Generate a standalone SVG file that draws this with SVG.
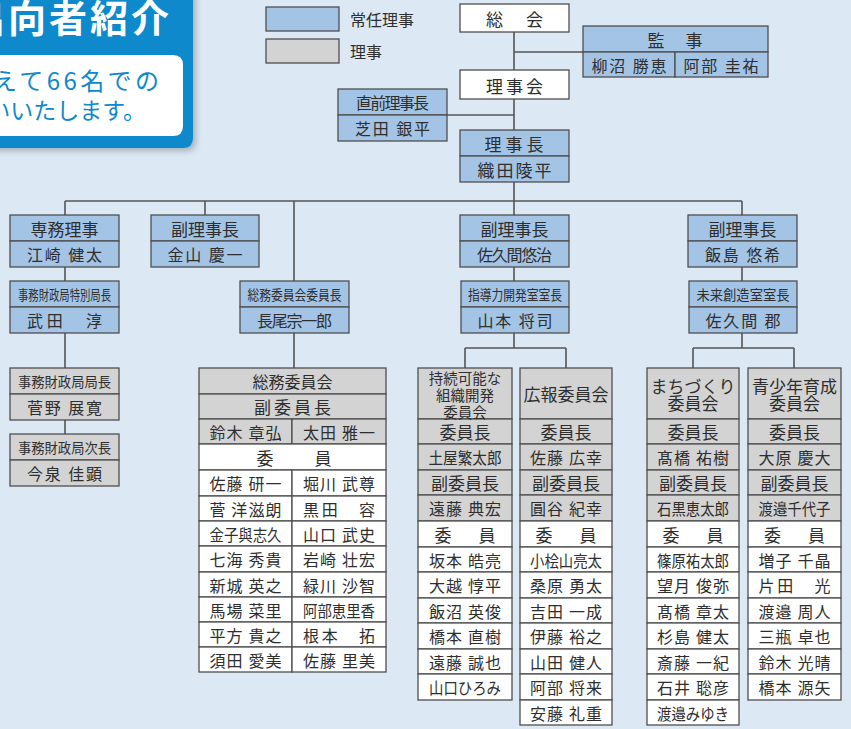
<svg xmlns="http://www.w3.org/2000/svg" width="851" height="729" viewBox="0 0 851 729">
<defs>
<style>
text{font-family:"Noto Sans CJK JP","Noto Sans CJK SC",sans-serif;fill:#2e2e2e}
.c{text-anchor:middle;dominant-baseline:central}
.h{font-size:17px}
.n{font-size:16px}
.s{font-size:14px}
.bl{fill:#a4c4e6;stroke:#4f4f4f;stroke-width:1.3}
.gr{fill:#d3d3d3;stroke:#4f4f4f;stroke-width:1.3}
.wh{fill:#fff;stroke:#4f4f4f;stroke-width:1.3}
.ln{fill:none;stroke:#555;stroke-width:1.6}
</style>
<filter id="sh" x="-10%" y="-10%" width="130%" height="130%"><feDropShadow dx="3" dy="3" stdDeviation="3" flood-color="#000" flood-opacity="0.25"/></filter>
</defs>
<rect width="851" height="729" fill="#dce9f5"/>

<g id="title">
<path d="M-10,-10 H193 V138 Q193,148 183,148 H-10 Z" fill="#0e89cc" filter="url(#sh)"/>
<text x="-33" y="32" font-size="38" font-weight="700" letter-spacing="3" style="fill:#fff">出向者紹介</text>
<path d="M-10,55 H173 Q183,55 183,65 V126 Q183,136 173,136 H-10 Z" fill="#fff"/>
<text x="-7" y="90" font-size="24" textLength="166" style="fill:#0e89cc">えて66名での</text>
<text x="146" y="119" font-size="23" text-anchor="end" style="fill:#0e89cc">いいたします。</text>
</g>

<g id="legend">
<rect class="bl" x="266" y="7" width="73" height="24"/>
<rect class="gr" x="266" y="39" width="73" height="24"/>
<text x="350" y="19" class="n" dominant-baseline="central">常任理事</text>
<text x="350" y="51" class="n" dominant-baseline="central">理事</text>
</g>

<g id="connectors" class="ln">
<path d="M514,32 V70 M514,52 H583 M514,99 V130 M447,115 H514 M514,182 V201"/>
<path d="M65,201 H742 M65,201 V215 M205,201 V215 M294,201 V281 M514,201 V215 M742,201 V215"/>
<path d="M65,267 V281 M65,333 V368 M65,420 V434 M294,333 V368"/>
<path d="M514,267 V281 M514,333 V348 M465,348 H566 M465,348 V368 M566,348 V368"/>
<path d="M742,267 V281 M742,333 V348 M693,348 H794 M693,348 V368 M794,348 V368"/>
</g>

<g id="soukai">
<rect class="wh" x="460" y="4" width="109" height="28"/>
<text class="c h" x="516" y="18" letter-spacing="3">総　会</text>
</g>
<g id="kanji">
<rect class="bl" x="583" y="26" width="185" height="26"/>
<rect class="bl" x="583" y="52" width="92" height="25"/>
<rect class="bl" x="675" y="52" width="93" height="25"/>
<text class="c h" x="676" y="39" letter-spacing="2">監　事</text>
<text class="c n" x="629" y="65" textLength="75">柳沼 勝恵</text>
<text class="c n" x="721" y="65" textLength="75">阿部 圭祐</text>
</g>
<g id="rijikai">
<rect class="wh" x="460" y="70" width="109" height="29"/>
<text class="c h" x="516" y="85" letter-spacing="3">理事会</text>
</g>
<g id="zenninrijichou">
<rect class="bl" x="338" y="89" width="109" height="26"/>
<rect class="bl" x="338" y="115" width="109" height="26"/>
<text class="c n" x="392.5" y="102" textLength="73">直前理事長</text>
<text class="c n" x="392.5" y="128" textLength="75">芝田 銀平</text>
</g>
<g id="rijichou">
<rect class="bl" x="460" y="130" width="109" height="26"/>
<rect class="bl" x="460" y="156" width="109" height="26"/>
<text class="c h" x="516" y="143" letter-spacing="4">理事長</text>
<text class="c h" x="515.5" y="169" letter-spacing="2">織田陵平</text>
</g>

<g id="senmu">
<rect class="bl" x="10" y="215" width="109" height="26"/>
<rect class="bl" x="10" y="241" width="109" height="26"/>
<text class="c h" x="64.5" y="228">専務理事</text>
<text class="c n" x="64.5" y="254" textLength="75">江崎 健太</text>
</g>
<g id="fuku1">
<rect class="bl" x="151" y="215" width="108" height="26"/>
<rect class="bl" x="151" y="241" width="108" height="26"/>
<text class="c h" x="205" y="228">副理事長</text>
<text class="c n" x="205" y="254" textLength="75">金山 慶一</text>
</g>
<g id="fuku2">
<rect class="bl" x="460" y="215" width="109" height="26"/>
<rect class="bl" x="460" y="241" width="109" height="26"/>
<text class="c h" x="514.5" y="228">副理事長</text>
<text class="c n" x="514.5" y="254" textLength="75">佐久間悠治</text>
</g>
<g id="fuku3">
<rect class="bl" x="688" y="215" width="109" height="26"/>
<rect class="bl" x="688" y="241" width="109" height="26"/>
<text class="c h" x="742.5" y="228">副理事長</text>
<text class="c n" x="742.5" y="254" textLength="75">飯島 悠希</text>
</g>

<g id="tokubetsu">
<rect class="bl" x="10" y="281" width="109" height="26"/>
<rect class="bl" x="10" y="307" width="109" height="26"/>
<text class="c s" x="64.5" y="294" textLength="93" lengthAdjust="spacingAndGlyphs">事務財政局特別局長</text>
<text class="c n" x="64.5" y="320" textLength="75">武田　淳</text>
</g>
<g id="soumuchou">
<rect class="bl" x="240" y="281" width="109" height="26"/>
<rect class="bl" x="240" y="307" width="109" height="26"/>
<text class="c s" x="294.5" y="294" textLength="94" lengthAdjust="spacingAndGlyphs">総務委員会委員長</text>
<text class="c n" x="294.5" y="320" textLength="75">長尾宗一郎</text>
</g>
<g id="shidou">
<rect class="bl" x="461" y="281" width="108" height="26"/>
<rect class="bl" x="461" y="307" width="108" height="26"/>
<text class="c s" x="515" y="294" textLength="94" lengthAdjust="spacingAndGlyphs">指導力開発室室長</text>
<text class="c n" x="515" y="320" textLength="75">山本 将司</text>
</g>
<g id="mirai">
<rect class="bl" x="689" y="281" width="108" height="26"/>
<rect class="bl" x="689" y="307" width="108" height="26"/>
<text class="c s" x="743" y="294" textLength="93" lengthAdjust="spacingAndGlyphs">未来創造室室長</text>
<text class="c n" x="743" y="320" textLength="75">佐久間 郡</text>
</g>

<g id="kyokuchou">
<rect class="gr" x="10" y="368" width="109" height="26"/>
<rect class="gr" x="10" y="394" width="109" height="26"/>
<text class="c s" x="64.5" y="381" textLength="93" lengthAdjust="spacingAndGlyphs">事務財政局局長</text>
<text class="c n" x="64.5" y="407" textLength="75">菅野 展寛</text>
</g>
<g id="jichou">
<rect class="gr" x="10" y="434" width="109" height="26"/>
<rect class="gr" x="10" y="460" width="109" height="26"/>
<text class="c s" x="64.5" y="447" textLength="93" lengthAdjust="spacingAndGlyphs">事務財政局次長</text>
<text class="c n" x="64.5" y="473" textLength="75">今泉 佳顕</text>
</g>

<g id="soumu">
<rect class="gr" x="199" y="368" width="187" height="26"/>
<rect class="gr" x="199" y="394" width="187" height="25"/>
<rect class="gr" x="199" y="419" width="93" height="25"/>
<rect class="gr" x="292" y="419" width="94" height="25"/>
<rect class="wh" x="199" y="444" width="187" height="26"/>
<rect class="wh" x="199" y="470" width="93" height="26"/><rect class="wh" x="292" y="470" width="94" height="26"/>
<rect class="wh" x="199" y="496" width="93" height="25"/><rect class="wh" x="292" y="496" width="94" height="25"/>
<rect class="wh" x="199" y="521" width="93" height="25"/><rect class="wh" x="292" y="521" width="94" height="25"/>
<rect class="wh" x="199" y="546" width="93" height="26"/><rect class="wh" x="292" y="546" width="94" height="26"/>
<rect class="wh" x="199" y="572" width="93" height="25"/><rect class="wh" x="292" y="572" width="94" height="25"/>
<rect class="wh" x="199" y="597" width="93" height="25"/><rect class="wh" x="292" y="597" width="94" height="25"/>
<rect class="wh" x="199" y="622" width="93" height="25"/><rect class="wh" x="292" y="622" width="94" height="25"/>
<rect class="wh" x="199" y="647" width="93" height="25"/><rect class="wh" x="292" y="647" width="94" height="25"/>
<text class="c n" x="292.5" y="381">総務委員会</text>
<text class="c h" x="294" y="406.5" letter-spacing="3">副委員長</text>
<text class="c n" x="245.5" y="431.5" textLength="72">鈴木 章弘</text>
<text class="c n" x="339" y="431.5" textLength="72">太田 雅一</text>
<text class="c h" x="265" y="457">委</text>
<text class="c h" x="323" y="457">員</text>
<text class="c n" x="245.5" y="483" textLength="72">佐藤 研一</text>
<text class="c n" x="339" y="483" textLength="72">堀川 武尊</text>
<text class="c n" x="245.5" y="508.5" textLength="72">菅 洋滋朗</text>
<text class="c n" x="339" y="508.5" textLength="72">黒田　容</text>
<text class="c n" x="245.5" y="533.5" textLength="72" lengthAdjust="spacingAndGlyphs">金子與志久</text>
<text class="c n" x="339" y="533.5" textLength="72">山口 武史</text>
<text class="c n" x="245.5" y="559" textLength="72">七海 秀貴</text>
<text class="c n" x="339" y="559" textLength="72">岩崎 壮宏</text>
<text class="c n" x="245.5" y="584.5" textLength="72">新城 英之</text>
<text class="c n" x="339" y="584.5" textLength="72">緑川 沙智</text>
<text class="c n" x="245.5" y="609.5" textLength="72">馬場 菜里</text>
<text class="c n" x="339" y="609.5" textLength="72" lengthAdjust="spacingAndGlyphs">阿部恵里香</text>
<text class="c n" x="245.5" y="634.5" textLength="72">平方 貴之</text>
<text class="c n" x="339" y="634.5" textLength="72">根本　拓</text>
<text class="c n" x="245.5" y="659.5" textLength="72">須田 愛美</text>
<text class="c n" x="339" y="659.5" textLength="72">佐藤 里美</text>
</g>

<g id="jizoku">
<rect class="gr" x="418" y="368" width="94" height="51"/>
<rect class="gr" x="418" y="419" width="94" height="25"/>
<rect class="gr" x="418" y="444" width="94" height="26"/>
<rect class="gr" x="418" y="470" width="94" height="25"/>
<rect class="gr" x="418" y="495" width="94" height="26"/>
<rect class="wh" x="418" y="521" width="94" height="26"/>
<rect class="wh" x="418" y="547" width="94" height="25"/>
<rect class="wh" x="418" y="572" width="94" height="26"/>
<rect class="wh" x="418" y="598" width="94" height="25"/>
<rect class="wh" x="418" y="623" width="94" height="26"/>
<rect class="wh" x="418" y="649" width="94" height="25"/>
<rect class="wh" x="418" y="674" width="94" height="26"/>
<text class="c" font-size="14.5"><tspan x="465" y="377">持続可能な</tspan><tspan x="465" y="394">組織開発</tspan><tspan x="465" y="411">委員会</tspan></text>
<text class="c h" x="465" y="431.5">委員長</text>
<text class="c n" x="465" y="457" textLength="73" lengthAdjust="spacingAndGlyphs">土屋繁太郎</text>
<text class="c h" x="465" y="482.5">副委員長</text>
<text class="c n" x="465" y="508" textLength="72">遠藤 典宏</text>
<text class="c h" x="443" y="534">委</text>
<text class="c h" x="487" y="534">員</text>
<text class="c n" x="465" y="559.5" textLength="72">坂本 皓亮</text>
<text class="c n" x="465" y="585" textLength="72">大越 惇平</text>
<text class="c n" x="465" y="610.5" textLength="72">飯沼 英俊</text>
<text class="c n" x="465" y="636" textLength="72">橋本 直樹</text>
<text class="c n" x="465" y="661.5" textLength="72">遠藤 誠也</text>
<text class="c n" x="465" y="687" textLength="72" lengthAdjust="spacingAndGlyphs">山口ひろみ</text>
</g>

<g id="kouhou">
<rect class="gr" x="520" y="368" width="92" height="51"/>
<rect class="gr" x="520" y="419" width="92" height="25"/>
<rect class="gr" x="520" y="444" width="92" height="26"/>
<rect class="gr" x="520" y="470" width="92" height="25"/>
<rect class="gr" x="520" y="495" width="92" height="26"/>
<rect class="wh" x="520" y="521" width="92" height="26"/>
<rect class="wh" x="520" y="547" width="92" height="25"/>
<rect class="wh" x="520" y="572" width="92" height="26"/>
<rect class="wh" x="520" y="598" width="92" height="25"/>
<rect class="wh" x="520" y="623" width="92" height="26"/>
<rect class="wh" x="520" y="649" width="92" height="25"/>
<rect class="wh" x="520" y="674" width="92" height="26"/>
<rect class="wh" x="520" y="700" width="92" height="25"/>
<text class="c h" x="566" y="393">広報委員会</text>
<text class="c h" x="566" y="431.5">委員長</text>
<text class="c n" x="566" y="457" textLength="72">佐藤 広幸</text>
<text class="c h" x="566" y="482.5">副委員長</text>
<text class="c n" x="566" y="508" textLength="72">圓谷 紀幸</text>
<text class="c h" x="544" y="534">委</text>
<text class="c h" x="588" y="534">員</text>
<text class="c n" x="566" y="559.5" textLength="72" lengthAdjust="spacingAndGlyphs">小桧山亮太</text>
<text class="c n" x="566" y="585" textLength="72">桑原 勇太</text>
<text class="c n" x="566" y="610.5" textLength="72">吉田 一成</text>
<text class="c n" x="566" y="636" textLength="72">伊藤 裕之</text>
<text class="c n" x="566" y="661.5" textLength="72">山田 健人</text>
<text class="c n" x="566" y="687" textLength="72">阿部 将来</text>
<text class="c n" x="566" y="712.5" textLength="72">安藤 礼重</text>
</g>

<g id="machizukuri">
<rect class="gr" x="647" y="368" width="92" height="51"/>
<rect class="gr" x="647" y="419" width="92" height="25"/>
<rect class="gr" x="647" y="444" width="92" height="26"/>
<rect class="gr" x="647" y="470" width="92" height="25"/>
<rect class="gr" x="647" y="495" width="92" height="26"/>
<rect class="wh" x="647" y="521" width="92" height="26"/>
<rect class="wh" x="647" y="547" width="92" height="25"/>
<rect class="wh" x="647" y="572" width="92" height="26"/>
<rect class="wh" x="647" y="598" width="92" height="25"/>
<rect class="wh" x="647" y="623" width="92" height="26"/>
<rect class="wh" x="647" y="649" width="92" height="25"/>
<rect class="wh" x="647" y="674" width="92" height="26"/>
<rect class="wh" x="647" y="700" width="92" height="25"/>
<text class="c h"><tspan x="693" y="385">まちづくり</tspan><tspan x="693" y="402">委員会</tspan></text>
<text class="c h" x="693" y="431.5">委員長</text>
<text class="c n" x="693" y="457" textLength="72">髙橋 祐樹</text>
<text class="c h" x="693" y="482.5">副委員長</text>
<text class="c n" x="693" y="508" textLength="72" lengthAdjust="spacingAndGlyphs">石黒恵太郎</text>
<text class="c h" x="671" y="534">委</text>
<text class="c h" x="715" y="534">員</text>
<text class="c n" x="693" y="559.5" textLength="72" lengthAdjust="spacingAndGlyphs">篠原祐太郎</text>
<text class="c n" x="693" y="585" textLength="72">望月 俊弥</text>
<text class="c n" x="693" y="610.5" textLength="72">髙橋 章太</text>
<text class="c n" x="693" y="636" textLength="72">杉島 健太</text>
<text class="c n" x="693" y="661.5" textLength="72">斎藤 一紀</text>
<text class="c n" x="693" y="687" textLength="72">石井 聡彦</text>
<text class="c n" x="693" y="712.5" textLength="72" lengthAdjust="spacingAndGlyphs">渡邉みゆき</text>
</g>

<g id="seishounen">
<rect class="gr" x="748" y="368" width="93" height="51"/>
<rect class="gr" x="748" y="419" width="93" height="25"/>
<rect class="gr" x="748" y="444" width="93" height="26"/>
<rect class="gr" x="748" y="470" width="93" height="25"/>
<rect class="gr" x="748" y="495" width="93" height="26"/>
<rect class="wh" x="748" y="521" width="93" height="26"/>
<rect class="wh" x="748" y="547" width="93" height="25"/>
<rect class="wh" x="748" y="572" width="93" height="26"/>
<rect class="wh" x="748" y="598" width="93" height="25"/>
<rect class="wh" x="748" y="623" width="93" height="26"/>
<rect class="wh" x="748" y="649" width="93" height="25"/>
<rect class="wh" x="748" y="674" width="93" height="26"/>
<text class="c h"><tspan x="794.5" y="385">青少年育成</tspan><tspan x="794.5" y="402">委員会</tspan></text>
<text class="c h" x="794.5" y="431.5">委員長</text>
<text class="c n" x="794.5" y="457" textLength="72">大原 慶大</text>
<text class="c h" x="794.5" y="482.5">副委員長</text>
<text class="c n" x="794.5" y="508" textLength="72" lengthAdjust="spacingAndGlyphs">渡邉千代子</text>
<text class="c h" x="772.5" y="534">委</text>
<text class="c h" x="816.5" y="534">員</text>
<text class="c n" x="794.5" y="559.5" textLength="72">増子 千晶</text>
<text class="c n" x="794.5" y="585" textLength="72">片田　光</text>
<text class="c n" x="794.5" y="610.5" textLength="72">渡邉 周人</text>
<text class="c n" x="794.5" y="636" textLength="72">三瓶 卓也</text>
<text class="c n" x="794.5" y="661.5" textLength="72">鈴木 光晴</text>
<text class="c n" x="794.5" y="687" textLength="72">橋本 源矢</text>
</g>
</svg>
